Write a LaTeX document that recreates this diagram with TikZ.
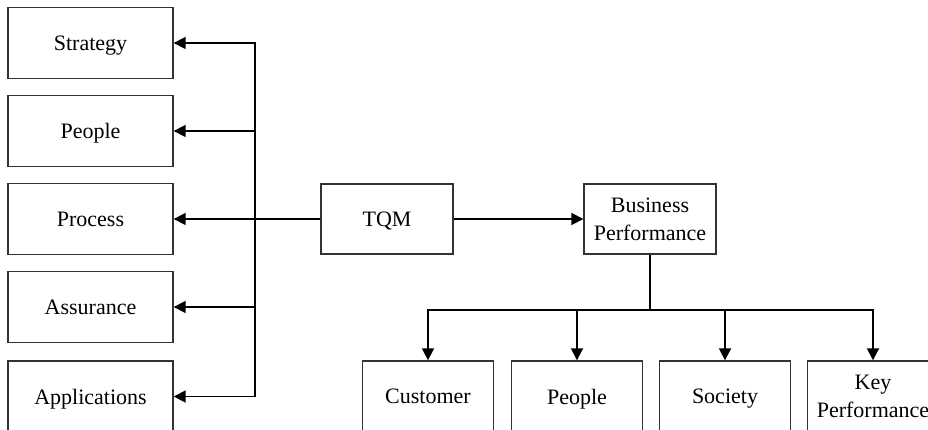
\documentclass[tikz,border=0pt]{standalone}
\usepackage{fontspec}
\setmainfont{Liberation Serif}
\usetikzlibrary{arrows.meta}
\begin{document}
\begin{tikzpicture}[x=1pt,y=-1pt,
  box/.style={draw=black!80,line width=1.4pt,fill=white,align=center,inner sep=0pt,
    text depth=0pt,font=\fontsize{22}{28}\selectfont},
  lbox/.style={box,minimum width=165pt,minimum height=71pt},
  mbox/.style={box,minimum width=132pt,minimum height=70pt},
  bbox/.style={box,minimum width=131pt,minimum height=71pt},
  conn/.style={line width=1.8pt,black},
  arr/.style={conn,-{Triangle[length=12pt,width=12pt]}}]
\clip (0,0) rectangle (928,430);
\fill[white] (0,0) rectangle (928,430);
\node[lbox] (strategy) at (90.5,43) {Strategy};
\node[lbox] (people) at (90.5,131) {People};
\node[lbox] (process) at (90.5,219) {Process};
\node[lbox] (assurance) at (90.5,307) {Assurance};
\node[lbox] (applications) at (90.5,396.5) {Applications};
\node[mbox] (tqm) at (387,219) {TQM};
\node[mbox] (bp) at (650,219) {Business\\Performance};
\node[bbox] (customer) at (428,396.5) {Customer};
\node[bbox] (people2) at (577,396.5) {People};
\node[bbox] (society) at (725,396.5) {Society};
\node[bbox] (key) at (873,396.5) {Key\\Performance};
\coordinate (j) at (255,219);
\coordinate (k) at (650,310);
\draw[conn] (tqm.west) -- (j);
\foreach \n in {strategy,people,process,assurance,applications}
  \draw[arr] (j) |- (\n.east);
\draw[arr] (tqm.east) -- (bp.west);
\draw[conn] (bp.south) -- (k);
\foreach \n in {customer,people2,society,key}
  \draw[arr] (k) -| (\n.north);
\end{tikzpicture}
\end{document}
